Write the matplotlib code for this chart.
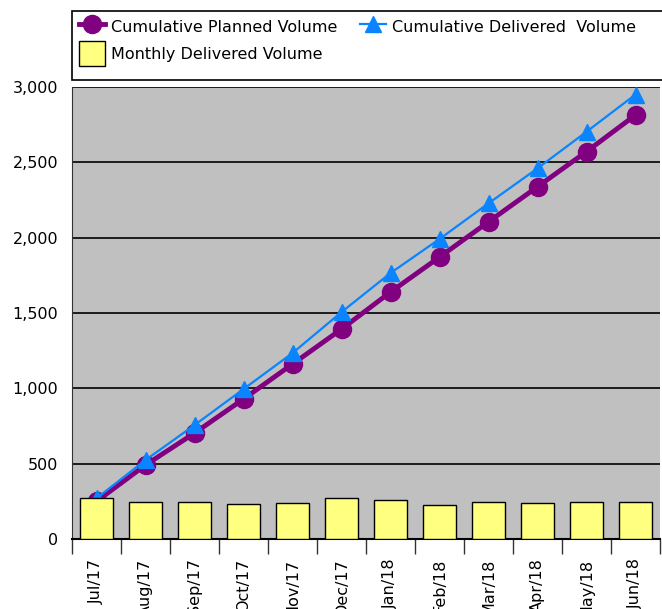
import matplotlib
matplotlib.use("Agg")
import matplotlib.pyplot as plt
from matplotlib.lines import Line2D
from matplotlib.patches import Rectangle

months = ["Jul/17", "Aug/17", "Sep/17", "Oct/17", "Nov/17", "Dec/17",
          "Jan/18", "Feb/18", "Mar/18", "Apr/18", "May/18", "Jun/18"]
monthly_delivered = [270, 248, 243, 232, 241, 270, 259, 228, 248, 237, 243, 245]
cum_planned = [250, 491, 703, 929, 1161, 1393, 1639, 1871, 2105, 2338, 2571, 2814]
cum_delivered = [270, 524, 756, 995, 1234, 1506, 1765, 1991, 2228, 2460, 2703, 2950]
y_ticks = [0, 500, 1000, 1500, 2000, 2500, 3000]

W, H = 662, 609
FS = 11.5
plt.rcParams['font.family'] = ['DejaVu Sans']
fig = plt.figure(figsize=(W / 100, H / 100), dpi=100)
ax = fig.add_axes([72 / W, 1 - 539 / H, (660 - 72) / W, (539 - 87) / H])
ax.set_facecolor('#C0C0C0')

x = list(range(len(months)))

# grid lines
for t in y_ticks[1:]:
    ax.axhline(t, color='black', linewidth=1.2, zorder=1)

ax.plot(x, cum_planned, color='#800080', linewidth=3.5, marker='o',
        markersize=13, zorder=3)
ax.plot(x, cum_delivered, color='#0A84FF', linewidth=1.6, marker='^',
        markersize=12, zorder=4, clip_on=False)
# bars sit on top of the lines, as in the source chart
ax.bar(x, monthly_delivered, width=0.67, color='#FFFF80', edgecolor='black',
       linewidth=1.0, zorder=5)

ax.set_xlim(-0.5, len(months) - 0.5)
ax.set_ylim(0, 3000)
ax.set_yticks(y_ticks)
ax.set_yticklabels([f"{t:,}" for t in y_ticks], fontsize=FS)
ax.tick_params(axis='y', length=0, pad=10)

ax.set_xticks([i - 0.5 for i in x] + [len(months) - 0.5], minor=False)
ax.set_xticklabels([])
ax.set_xticks(x, minor=True)
ax.set_xticklabels(months, minor=True, rotation=90, fontsize=FS, va='top')
ax.tick_params(axis='x', which='major', length=11, width=1, color='#333333')
ax.tick_params(axis='x', which='minor', length=0, pad=14)

for s in ['top', 'right']:
    ax.spines[s].set_visible(False)
ax.spines['left'].set_color('#333333')
ax.spines['bottom'].set_color('black')
ax.spines['bottom'].set_linewidth(1.5)

# legend box
fig.patches.append(Rectangle((72 / W, 1 - 80 / H), 1.0, 69 / H,
                             transform=fig.transFigure, facecolor='white',
                             edgecolor='black', linewidth=1.2, zorder=0))
handles = [
    Line2D([], [], color='#800080', linewidth=3.5, marker='o', markersize=13),
    Rectangle((0, 0), 1, 1, facecolor='#FFFF80', edgecolor='black'),
    Line2D([], [], color='#0A84FF', linewidth=1.6, marker='^', markersize=12),
]
labels = ["Cumulative Planned Volume", "Monthly Delivered Volume",
          "Cumulative Delivered  Volume"]
fig.legend(handles, labels, ncol=2, loc='upper left',
           bbox_to_anchor=(71 / W, 1 - 7 / H), frameon=False, fontsize=FS,
           handlelength=1.65, handleheight=2.0, handletextpad=0.35,
           columnspacing=1.4, labelspacing=0.1, borderpad=0.0)

fig.savefig("out.png", dpi=100)
